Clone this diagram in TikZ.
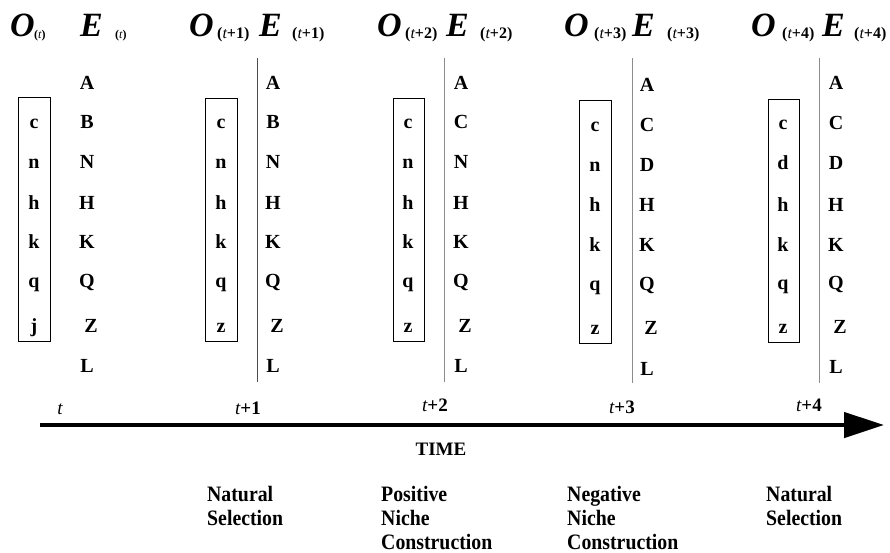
\documentclass[tikz,border=0pt]{standalone}
\usepackage{fontspec}
\setmainfont{Liberation Serif}
\newfontfamily\condfont[FakeStretch=0.9]{Liberation Serif}
\usetikzlibrary{arrows.meta}
\newcommand{\tvar}{{\mdseries\itshape t}}
\begin{document}
\begin{tikzpicture}[x=1pt,y=-1pt,
  hdrO/.style={font=\fontsize{34}{38}\selectfont\bfseries\itshape, inner sep=0, anchor=base west},
  hdrsub/.style={font=\fontsize{16}{19}\selectfont\bfseries, inner sep=0, anchor=base west},
  hdrsmall/.style={font=\fontsize{12}{14}\selectfont\bfseries, inner sep=0, anchor=base west},
  ltr/.style={font=\fontsize{20}{24}\selectfont\bfseries, inner sep=0, anchor=base},
  tlbl/.style={font=\fontsize{19}{22}\selectfont\bfseries, inner sep=0, anchor=base},
  lbl/.style={font=\condfont\fontsize{22}{26}\selectfont\bfseries, inner sep=0, anchor=base west},
  obox/.style={draw, line width=1.1pt, inner sep=0, anchor=north west},
  sepline/.style={draw=black!45, line width=0.8pt},
  axis/.style={line width=4.5pt, -{Triangle[length=40pt,width=25pt]}}]
\useasboundingbox (0,0) rectangle (890,552);

% headers
\node[hdrO] (O0) at (10,36) {O};
\node[hdrsmall] (O0s) at (34,38) {(\tvar)};
\node[hdrO] (E0) at (80,36) {E};
\node[hdrsmall] (E0s) at (115,38) {(\tvar)};
\node[hdrO] (O1) at (189,36) {O};
\node[hdrsub] (O1s) at (217,38) {(\tvar+1)};
\node[hdrO] (E1) at (259,36) {E};
\node[hdrsub] (E1s) at (292,38) {(\tvar+1)};
\node[hdrO] (O2) at (377,36) {O};
\node[hdrsub] (O2s) at (405,38) {(\tvar+2)};
\node[hdrO] (E2) at (446,36) {E};
\node[hdrsub] (E2s) at (480,38) {(\tvar+2)};
\node[hdrO] (O3) at (564,36) {O};
\node[hdrsub] (O3s) at (594,38) {(\tvar+3)};
\node[hdrO] (E3) at (632,36) {E};
\node[hdrsub] (E3s) at (667,38) {(\tvar+3)};
\node[hdrO] (O4) at (751,36) {O};
\node[hdrsub] (O4s) at (782,38) {(\tvar+4)};
\node[hdrO] (E4) at (822,36) {E};
\node[hdrsub] (E4s) at (854,38) {(\tvar+4)};

% boxes
\node[obox, minimum width=32pt, minimum height=244pt] (B0) at (18,97) {};
\node[obox, minimum width=32pt, minimum height=243pt] (B1) at (205,98) {};
\node[obox, minimum width=31pt, minimum height=243pt] (B2) at (393,98) {};
\node[obox, minimum width=32pt, minimum height=243pt] (B3) at (579,100) {};
\node[obox, minimum width=31pt, minimum height=243pt] (B4) at (768,99) {};

% column 1
\foreach \ch/\yy [count=\i] in {c/128,n/168,h/209,k/248,q/287,j/332}
  \node[ltr] (l0-\i) at (34,\yy) {\ch};
\foreach \ch/\yy/\dx [count=\i] in {A/89/0,B/128/0,N/168/0,H/209/0,K/248/0,Q/287/0,Z/332/4,L/372/0}
  \node[ltr] (u0-\i) at (87+\dx,\yy) {\ch};
% column 2
\foreach \ch/\yy [count=\i] in {c/128,n/168,h/209,k/248,q/287,z/332}
  \node[ltr] (l1-\i) at (221,\yy) {\ch};
\foreach \ch/\yy/\dx [count=\i] in {A/89/0,B/128/0,N/168/0,H/209/0,K/248/0,Q/287/0,Z/332/4,L/372/0}
  \node[ltr] (u1-\i) at (273+\dx,\yy) {\ch};
% column 3
\foreach \ch/\yy [count=\i] in {c/128,n/168,h/209,k/248,q/287,z/332}
  \node[ltr] (l2-\i) at (408,\yy) {\ch};
\foreach \ch/\yy/\dx [count=\i] in {A/89/0,C/128/0,N/168/0,H/209/0,K/248/0,Q/287/0,Z/332/4,L/372/0}
  \node[ltr] (u2-\i) at (461+\dx,\yy) {\ch};
% column 4
\foreach \ch/\yy [count=\i] in {c/131,n/171,h/211,k/251,q/290,z/334}
  \node[ltr] (l3-\i) at (595,\yy) {\ch};
\foreach \ch/\yy/\dx [count=\i] in {A/91/0,C/131/0,D/171/0,H/211/0,K/251/0,Q/290/0,Z/334/4,L/375/0}
  \node[ltr] (u3-\i) at (647+\dx,\yy) {\ch};
% column 5
\foreach \ch/\yy [count=\i] in {c/129,d/169,h/211,k/251,q/289,z/333}
  \node[ltr] (l4-\i) at (783,\yy) {\ch};
\foreach \ch/\yy/\dx [count=\i] in {A/89/0,C/129/0,D/169/0,H/211/0,K/251/0,Q/289/0,Z/333/4,L/373/0}
  \node[ltr] (u4-\i) at (836+\dx,\yy) {\ch};

% separator lines
\coordinate (s1t) at (257,58); \coordinate (s1b) at (257,382);
\coordinate (s2t) at (444,58); \coordinate (s2b) at (444,382);
\coordinate (s3t) at (632,58); \coordinate (s3b) at (632,383);
\coordinate (s4t) at (819,58); \coordinate (s4b) at (819,383);
\draw[sepline, draw=black!70] (s1t) -- (s1b);
\draw[sepline] (s2t) -- (s2b);
\draw[sepline] (s3t) -- (s3b);
\draw[sepline] (s4t) -- (s4b);

% time axis
\node[tlbl] (t0) at (60,414) {\tvar};
\node[tlbl] (t1) at (248,414) {\tvar+1};
\node[tlbl] (t2) at (435,411) {\tvar+2};
\node[tlbl] (t3) at (622,413) {\tvar+3};
\node[tlbl] (t4) at (809,411) {\tvar+4};
\coordinate (ax0) at (40,425);
\coordinate (ax1) at (884,425);
\draw[axis] (ax0) -- (ax1);
\node[tlbl] (time) at (441,455) {TIME};

% process labels
\node[lbl] (p1a) at (207,501) {Natural};
\node[lbl] (p1b) at (207,525) {Selection};
\node[lbl] (p2a) at (381,501) {Positive};
\node[lbl] (p2b) at (381,525) {Niche};
\node[lbl] (p2c) at (381,549) {Construction};
\node[lbl] (p3a) at (567,501) {Negative};
\node[lbl] (p3b) at (567,525) {Niche};
\node[lbl] (p3c) at (567,549) {Construction};
\node[lbl] (p4a) at (766,501) {Natural};
\node[lbl] (p4b) at (766,525) {Selection};
\end{tikzpicture}
\end{document}
